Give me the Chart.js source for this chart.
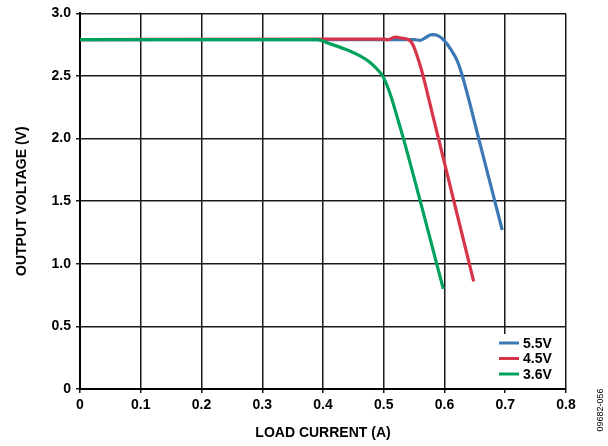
<!DOCTYPE html>
<html>
<head>
<meta charset="utf-8">
<script src="https://cdn.jsdelivr.net/npm/chart.js@4.4.1/dist/chart.umd.min.js"></script>
<style>
  html, body { margin: 0; padding: 0; background: #fff; }
  #wrap { width: 608px; height: 446px; }
</style>
</head>
<body>
<div id="wrap"><canvas id="chart" width="608" height="446"></canvas></div>
<script>
// ---- data ----
const seriesLabels = ['5.5V', '4.5V', '3.6V'];
const seriesColors = ['#3b78b5', '#d6354a', '#00a25c'];
// green ends up on top, blue underneath
const drawOrder = [2, 1, 0];

// load current (A)
const x55 = [0, 0.39, 0.50, 0.55, 0.56, 0.57, 0.579, 0.59, 0.60, 0.612, 0.621, 0.630, 0.660, 0.695];
// output voltage (V)
const y55 = [2.79, 2.79, 2.79, 2.79, 2.785, 2.81, 2.83, 2.82, 2.78, 2.70, 2.62, 2.49, 1.93, 1.27];

const x45 = [0, 0.40, 0.50, 0.507, 0.519, 0.532, 0.541, 0.548, 0.555, 0.562, 0.570, 0.580, 0.648];
const y45 = [2.79, 2.795, 2.795, 2.79, 2.81, 2.80, 2.79, 2.75, 2.66, 2.55, 2.40, 2.20, 0.86];

const x36 = [0, 0.39, 0.41, 0.444, 0.461, 0.477, 0.488, 0.497, 0.505, 0.513, 0.521, 0.533, 0.598];
const y36 = [2.79, 2.79, 2.76, 2.70, 2.66, 2.61, 2.56, 2.51, 2.43, 2.32, 2.19, 1.99, 0.80];

const xTicks = [0, 0.1, 0.2, 0.3, 0.4, 0.5, 0.6, 0.7, 0.8];
const yTicks = [0, 0.5, 1.0, 1.5, 2.0, 2.5, 3.0];
const xTickLabels = ['0', '0.1', '0.2', '0.3', '0.4', '0.5', '0.6', '0.7', '0.8'];
const yTickLabels = ['0', '0.5', '1.0', '1.5', '2.0', '2.5', '3.0'];

const xTitle = 'LOAD CURRENT (A)';
const yTitle = 'OUTPUT VOLTAGE (V)';
const figId = '09682-056';

const FONT = '"Liberation Sans", Arial, sans-serif';

function pts(xs, ys) {
    return xs.map((x, i) => ({ x: x, y: ys[i] }));
}

const allX = [x55, x45, x36];
const allY = [y55, y45, y36];

// legend drawn in the lower right of the plot, with a white backing
const insideLegend = {
    id: 'insideLegend',
    afterDatasetsDraw(chart) {
        const { ctx, chartArea } = chart;
        ctx.save();
        ctx.fillStyle = '#fff';
        ctx.fillRect(chartArea.right - 72, chartArea.bottom - 55, 71, 54);
        ctx.font = 'bold 14px ' + FONT;
        ctx.textBaseline = 'middle';
        chart.data.datasets.forEach((ds, i) => {
            const y = chartArea.bottom - 46 + i * 15.5;
            const x0 = chartArea.right - 67;
            ctx.strokeStyle = ds.borderColor;
            ctx.lineWidth = 3;
            ctx.beginPath();
            ctx.moveTo(x0, y);
            ctx.lineTo(x0 + 20, y);
            ctx.stroke();
            ctx.fillStyle = '#000';
            ctx.fillText(ds.label, x0 + 24, y + 1);
        });
        ctx.restore();
    },
    afterDraw(chart) {
        const ctx = chart.ctx;
        ctx.save();
        ctx.translate(601, 410);
        ctx.rotate(-Math.PI / 2);
        ctx.font = '9px ' + FONT;
        ctx.fillStyle = '#000';
        ctx.textAlign = 'center';
        ctx.textBaseline = 'middle';
        ctx.fillText(figId, 0, 0);
        ctx.restore();
    }
};

new Chart(document.getElementById('chart').getContext('2d'), {
    type: 'line',
    data: {
        datasets: seriesLabels.map((label, i) => ({
            label: label,
            data: pts(allX[i], allY[i]),
            borderColor: seriesColors[i],
            backgroundColor: seriesColors[i],
            borderWidth: 3.2,
            pointRadius: 0,
            order: drawOrder[i],
            cubicInterpolationMode: 'monotone',
            fill: false
        }))
    },
    options: {
        responsive: false,
        animation: false,
        layout: { padding: { top: 11, right: 42, left: 0, bottom: 0 } },
        plugins: {
            legend: { display: false },
            tooltip: { enabled: false }
        },
        scales: {
            x: {
                type: 'linear',
                min: 0,
                max: 0.8,
                afterBuildTicks: (s) => { s.ticks = xTicks.map(v => ({ value: v })); },
                afterFit: (s) => { s.height = 57; },
                ticks: {
                    color: '#000',
                    padding: 4,
                    maxRotation: 0,
                    font: { family: FONT, size: 14, weight: 'bold' },
                    callback: (v) => xTickLabels[xTicks.indexOf(v)] ?? ''
                },
                grid: { color: '#1a1a1a', lineWidth: 1.5, tickLength: 4 },
                border: { color: '#000', width: 2 },
                title: {
                    display: true,
                    text: xTitle,
                    color: '#000',
                    font: { family: FONT, size: 14, weight: 'bold' },
                    padding: { top: 0, bottom: 4 }
                }
            },
            y: {
                type: 'linear',
                min: 0,
                max: 3.0,
                afterBuildTicks: (s) => { s.ticks = yTicks.map(v => ({ value: v })); },
                afterFit: (s) => { s.width = 80; },
                ticks: {
                    color: '#000',
                    padding: 5,
                    font: { family: FONT, size: 14, weight: 'bold' },
                    callback: (v) => yTickLabels[yTicks.indexOf(v)] ?? ''
                },
                grid: { color: '#1a1a1a', lineWidth: 1.5, tickLength: 4 },
                border: { color: '#000', width: 2 },
                title: {
                    display: true,
                    text: yTitle,
                    color: '#000',
                    font: { family: FONT, size: 14, weight: 'bold' },
                    padding: { top: 14, bottom: 0 }
                }
            }
        }
    },
    plugins: [insideLegend]
});
</script>
</body>
</html>
